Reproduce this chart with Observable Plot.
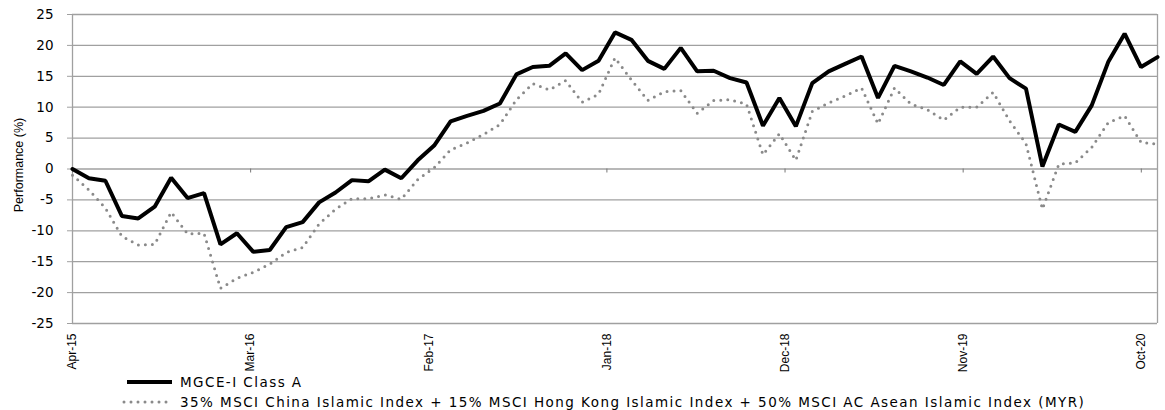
<!DOCTYPE html>
<html>
<head>
<meta charset="utf-8">
<script src="https://cdn.jsdelivr.net/npm/d3@7"></script>
<script src="https://cdn.jsdelivr.net/npm/@observablehq/plot@0.6"></script>
<style>
  html, body { margin: 0; padding: 0; background: #fff; }
  #wrap { position: relative; width: 1165px; height: 410px; overflow: hidden; }
  #chart svg { display: block; }
  .lg { position: absolute; left: 0; height: 20px; display: flex; align-items: center;
        font-family: "DejaVu Sans", sans-serif; font-size: 13.5px; letter-spacing: 1.45px; color: #000; white-space: nowrap; }
  .lg svg { display: block; margin-right: 6px; }
</style>
</head>
<body>
<div id="wrap">
  <div id="chart"></div>
  <div id="legend"></div>
</div>
<script>
// Series: monthly performance (%) from Apr-15 to Oct-20 (67 months)
const fund = [0.0,-1.5,-1.9,-7.6,-8.0,-6.1,-1.4,-4.7,-3.9,-12.2,-10.4,-13.4,-13.1,-9.4,-8.6,-5.4,-3.8,-1.8,-2.0,-0.1,-1.5,1.4,3.8,7.7,8.6,9.4,10.6,15.3,16.5,16.7,18.7,16.0,17.5,22.1,20.9,17.5,16.2,19.6,15.8,15.9,14.7,14.0,7.0,11.5,6.9,13.9,15.8,17.0,18.2,11.5,16.7,15.8,14.8,13.6,17.4,15.4,18.2,14.7,13.0,0.4,7.2,6.0,10.3,17.3,21.9,16.5,18.1];
const bench = [-1.0,-3.4,-6.3,-10.9,-12.3,-12.2,-7.0,-10.5,-10.4,-19.3,-17.7,-16.7,-15.4,-13.5,-12.7,-8.9,-6.5,-4.8,-4.8,-4.2,-4.9,-1.7,0.2,3.1,4.2,5.6,7.2,11.2,13.8,12.8,14.3,10.8,12.1,18.0,14.4,11.1,12.5,12.7,9.0,11.1,11.2,10.5,2.3,5.7,1.4,9.3,10.7,11.8,13.1,7.3,13.1,10.5,9.6,7.9,10.0,10.0,12.4,7.8,4.1,-6.5,0.8,1.0,3.5,7.5,8.6,4.3,4.0];
const tickLabels = ["Apr-15","Mar-16","Feb-17","Jan-18","Dec-18","Nov-19","Oct-20"];
const labelEvery = 11;
const yTicks = [-25,-20,-15,-10,-5,0,5,10,15,20,25];
const seriesNames = ["MGCE-I Class A",
  "35% MSCI China Islamic Index + 15% MSCI Hong Kong Islamic Index + 50% MSCI AC Asean Islamic Index (MYR)"];

const n = fund.length;
// Excel-style category ticks sit on slot boundaries (n slots across n-1 intervals)
const tickPos = tickLabels.map((_, k) => k * labelEvery * (n - 1) / n);
const labelOf = new Map(tickPos.map((p, k) => [p, tickLabels[k]]));
const grid = "#a0a0a0";

const chart = Plot.plot({
  width: 1165,
  height: 372,
  marginTop: 14,
  marginBottom: 49,
  marginLeft: 72,
  marginRight: 8,
  style: { fontFamily: "DejaVu Sans", background: "#fff", color: "#000", overflow: "visible" },
  x: { domain: [0, n - 1] },
  y: { domain: [-25, 25] },
  marks: [
    Plot.gridY(yTicks, { stroke: grid, strokeOpacity: 1, strokeWidth: 1.3 }),
    Plot.ruleX([0, n - 1], { stroke: grid, strokeWidth: 1.3 }),
    Plot.ruleX(tickPos, { y1: 0, y2: 0, insetBottom: -4, stroke: "#777" }),
    Plot.axisY(yTicks, { tickSize: 5, tickPadding: 14, stroke: grid, fontSize: 13.5,
      tickFormat: d => String(d), label: null }),
    Plot.text([ "Performance (%)" ], { frameAnchor: "left", rotate: -90, dx: -54, dy: -4,
      textAnchor: "middle", lineAnchor: "middle", fontSize: 12.5, fontFamily: "Liberation Sans" }),
    Plot.axisX(tickPos, { anchor: "bottom", tickSize: 0, tickPadding: 10, tickRotate: -90,
      tickFormat: d => labelOf.get(d), label: null, fontSize: 12, fontFamily: "Liberation Sans" }),
    Plot.lineY(bench, { x: (d, i) => i, y: d => d, stroke: "#8a8a8a", strokeWidth: 3,
      strokeDasharray: "0,7", strokeLinecap: "round" }),
    Plot.lineY(fund, { x: (d, i) => i, y: d => d, stroke: "#000", strokeWidth: 4, strokeLinejoin: "miter" })
  ]
});
document.getElementById("chart").appendChild(chart);

// Legend
const legend = document.getElementById("legend");
const styles = [
  { stroke: "#000", width: 4, dash: null, cap: "butt" },
  { stroke: "#8a8a8a", width: 3, dash: "0,7", cap: "round" }
];
seriesNames.forEach((name, i) => {
  const row = document.createElement("div");
  row.className = "lg";
  row.style.top = (372 + i * 20) + "px";
  row.style.left = "122px";
  const s = styles[i];
  const svg = d3.create("svg").attr("width", 52).attr("height", 10);
  svg.append("line").attr("x1", i === 0 ? 5 : 2).attr("x2", 50).attr("y1", 5).attr("y2", 5)
    .attr("stroke", s.stroke).attr("stroke-width", s.width)
    .attr("stroke-dasharray", s.dash).attr("stroke-linecap", s.cap);
  row.appendChild(svg.node());
  const span = document.createElement("span");
  span.textContent = name;
  row.appendChild(span);
  legend.appendChild(row);
});
</script>
</body>
</html>
